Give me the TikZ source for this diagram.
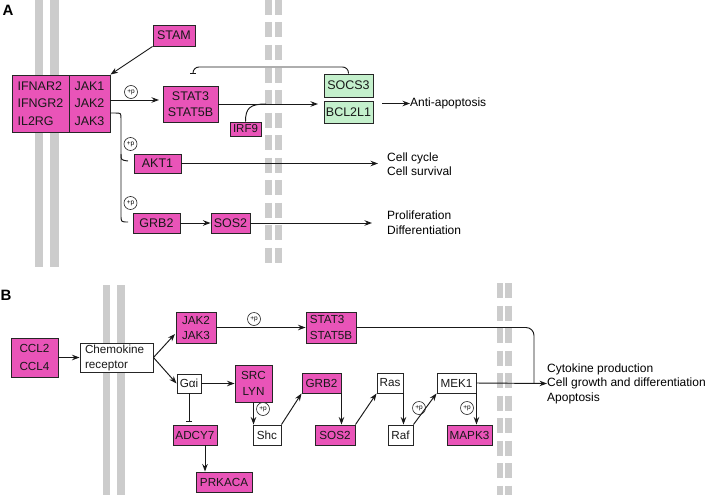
\documentclass[tikz,border=0pt]{standalone}
\usepackage{fontspec}
\setmainfont{Liberation Sans}
\usetikzlibrary{arrows.meta}
\definecolor{pk}{RGB}{233,84,184}
\definecolor{gr}{RGB}{196,240,204}
\definecolor{mem}{RGB}{204,204,204}
\begin{document}
\begin{tikzpicture}[x=1pt,y=-1pt,
  box/.style={draw=black!85, line width=0.95pt, inner sep=0pt, text=black!90},
  pkbox/.style={box, fill=pk},
  grbox/.style={box, fill=gr},
  wbox/.style={box, fill=white},
  fa/.style={font=\fontsize{12.5}{16}\selectfont},
  fb/.style={font=\fontsize{11.7}{15}\selectfont},
  conn/.style={line width=0.95pt, black!90},
  arr/.style={conn, -{Stealth[length=7.5pt,width=5.5pt]}},
  inh/.style={conn, -{Bar[width=6pt]}},
  pcirc/.style={circle, draw=black!85, line width=0.6pt, fill=white, inner sep=0pt, minimum size=13pt, font=\fontsize{6.5}{7}\selectfont},
  note/.style={font=\fontsize{12}{14.5}\selectfont, align=left, anchor=west, inner sep=0pt},
  solidmem/.style={line width=8.5pt, mem},
  dashmem/.style={line width=7pt, mem, dash pattern=on 15pt off 7.5pt},
  lbl/.style={font=\bfseries\fontsize{15}{15}\selectfont, inner sep=0pt},
]
\useasboundingbox (0,0) rectangle (708,495);

% membranes
\draw[solidmem] (39,0) -- (39,267);
\draw[solidmem] (54.5,0) -- (54.5,267);
\draw[dashmem] (268.5,0) -- (268.5,265);
\draw[dashmem] (278,0) -- (278,265);
\draw[solidmem, line width=7.8pt] (106.5,285) -- (106.5,495);
\draw[solidmem, line width=7.8pt] (121,285) -- (121,495);
\draw[dashmem, line width=6.8pt] (500,283) -- (500,495);
\draw[dashmem, line width=6.8pt] (508.3,283) -- (508.3,495);

% labels
\node[lbl] (labA) at (8,10) {A};
\node[lbl] (labB) at (6,295) {B};

% ---------- Panel A ----------
\node[pkbox, fa, minimum width=42, minimum height=21] (stam) at (174,35.5) {STAM};
\node[pkbox, minimum width=57, minimum height=57, align=left, font=\fontsize{12.5}{17.5}\selectfont] (recL) at (40.5,103.5) {IFNAR2\\IFNGR2\\IL2RG};
\node[pkbox, minimum width=41, minimum height=57, align=left, font=\fontsize{12.5}{17.5}\selectfont] (recR) at (89.5,103.5) {JAK1\\JAK2\\JAK3};
\node[pkbox, fa, minimum width=55, minimum height=36, align=center] (stat3A) at (190.5,104) {STAT3\\STAT5B};
\node[grbox, fa, minimum width=49, minimum height=23] (socs3) at (348.5,85.5) {SOCS3};
\node[grbox, fa, minimum width=49, minimum height=22] (bcl) at (348.5,112) {BCL2L1};
\node[pkbox, font=\fontsize{11.5}{12}\selectfont, minimum width=31, minimum height=14] (irf9) at (245.5,129) {IRF9};
\node[pkbox, fa, minimum width=47, minimum height=19] (akt1) at (157.5,163.5) {AKT1};
\node[pkbox, fa, minimum width=47, minimum height=20] (grb2A) at (156.5,223) {GRB2};
\node[pkbox, fa, minimum width=39, minimum height=20] (sos2A) at (230.5,223) {SOS2};

\node[note] (anti) at (410,103.5) {Anti-apoptosis};
\node[note] (cc) at (387,164) {Cell cycle\\Cell survival};
\node[note] (pd) at (387,222.5) {Proliferation\\Differentiation};

\node[pcirc] (p1) at (131,92) {+p};
\node[pcirc] (p2) at (130.5,144) {+p};
\node[pcirc] (p3) at (130.5,203) {+p};

\coordinate (j2) at (110,100);
\coordinate (s3in) at (163,100);
\coordinate (j3) at (110,113);
\coordinate (gend) at (128,222);
\coordinate (hk1) at (121,154);
\coordinate (hk2) at (128,161);
\coordinate (bclin) at (324,104);
\coordinate (irfj) at (266,104);
\coordinate (aa) at (382,103.5);

\draw[arr] (stam.south west) -- (recR.north east);
\draw[arr, shorten >=4pt] (j2) -- (s3in);
\draw[conn] (j3) -- (115,113) .. controls (121,113) .. (121,119) -- (121,215) .. controls (121,222) .. (gend);
\draw[conn] (hk1) .. controls (121,160) .. (hk2);
\draw[arr, shorten >=6pt] (stat3A.east) -- (bclin);
\draw[conn] (irf9.north) .. controls (245.5,108) and (250,104) .. (irfj);
\draw[inh, rounded corners=6] (socs3.north) -- (348.5,67) -- (193,67) -- (193,73);
\draw[arr] (aa) -- (anti.west);
\draw[arr, shorten >=9pt] (akt1.east) -- (akt1.east -| cc.west);
\draw[arr] (grb2A.east) -- (sos2A.west);
\draw[arr, shorten >=15pt] (sos2A.east) -- (sos2A.east -| pd.west);

% ---------- Panel B ----------
\node[pkbox, minimum width=47, minimum height=39, align=center, font=\fontsize{11.7}{18}\selectfont] (ccl) at (34.5,357.5) {CCL2\\CCL4};
\node[wbox, fb, minimum width=73, minimum height=29, align=left, text width=63] (chemo) at (116.5,357.5) {Chemokine\\receptor};
\node[pkbox, fb, minimum width=40, minimum height=31, align=center] (jak) at (196,327.5) {JAK2\\JAK3};
\node[wbox, fb, minimum width=24, minimum height=19] (gai) at (189,383.5) {Gαi};
\node[pkbox, minimum width=50, minimum height=31, align=left, font=\fontsize{11.7}{16}\selectfont] (stat3B) at (331,327.5) {STAT3\\STAT5B};
\node[pkbox, minimum width=37, minimum height=37, align=center, font=\fontsize{11.7}{16}\selectfont] (src) at (253.5,383.5) {SRC\\LYN};
\node[pkbox, fb, minimum width=44, minimum height=20] (adcy7) at (195,435) {ADCY7};
\node[pkbox, fb, minimum width=56, minimum height=20] (prkaca) at (224,482) {PRKACA};
\node[wbox, fb, minimum width=28, minimum height=20] (shc) at (267,435) {Shc};
\node[pkbox, fb, minimum width=39, minimum height=20] (grb2B) at (321.5,383) {GRB2};
\node[pkbox, fb, minimum width=40, minimum height=20] (sos2B) at (335,435) {SOS2};
\node[wbox, fb, minimum width=26, minimum height=20] (ras) at (390,383) {Ras};
\node[wbox, fb, minimum width=25, minimum height=20] (raf) at (400.5,435) {Raf};
\node[wbox, fb, minimum width=39, minimum height=20] (mek1) at (456.5,383) {MEK1};
\node[pkbox, fb, minimum width=45, minimum height=20] (mapk3) at (469.5,435) {MAPK3};

\node[note] (out) at (547,383.5) {Cytokine production\\Cell growth and differentiation\\Apoptosis};

\node[pcirc] (p4) at (254,319) {+p};
\node[pcirc] (p5) at (263,409) {+p};
\node[pcirc] (p6) at (419,408) {+p};
\node[pcirc] (p7) at (467,408) {+p};

\coordinate (jakin) at (175,334);
\coordinate (corner) at (534,327.5);
\coordinate (cjoin) at (534,383);
\coordinate (ax) at (205,0);

\draw[arr] (ccl.east) -- (chemo.west);
\draw[arr] (chemo.east) -- (jakin);
\draw[arr] (chemo.east) -- (gai.west);
\draw[arr] (jak.east) -- (stat3B.west);
\draw[conn, rounded corners=8] (stat3B.east) -- (corner) -- (cjoin);
\draw[arr] (mek1.east) -- (out.west);
\draw[arr] (gai.east) -- (src.west);
\draw[inh, shorten >=3pt] (gai.south) -- (gai.south |- adcy7.north);
\draw[arr] (adcy7.south -| ax) -- (prkaca.north -| ax);
\draw[arr] (src.south) -- (src.south |- shc.north);
\draw[arr] (shc.north east) -- (grb2B.south west);
\draw[arr] (grb2B.south east) -- (grb2B.south east |- sos2B.north);
\draw[arr] (sos2B.north east) -- (ras.south west);
\draw[arr] (ras.south east) -- (ras.south east |- raf.north);
\draw[arr] (raf.north east) -- (mek1.south west);
\draw[arr] (mek1.south east) -- (mek1.south east |- mapk3.north);
\end{tikzpicture}
\end{document}
